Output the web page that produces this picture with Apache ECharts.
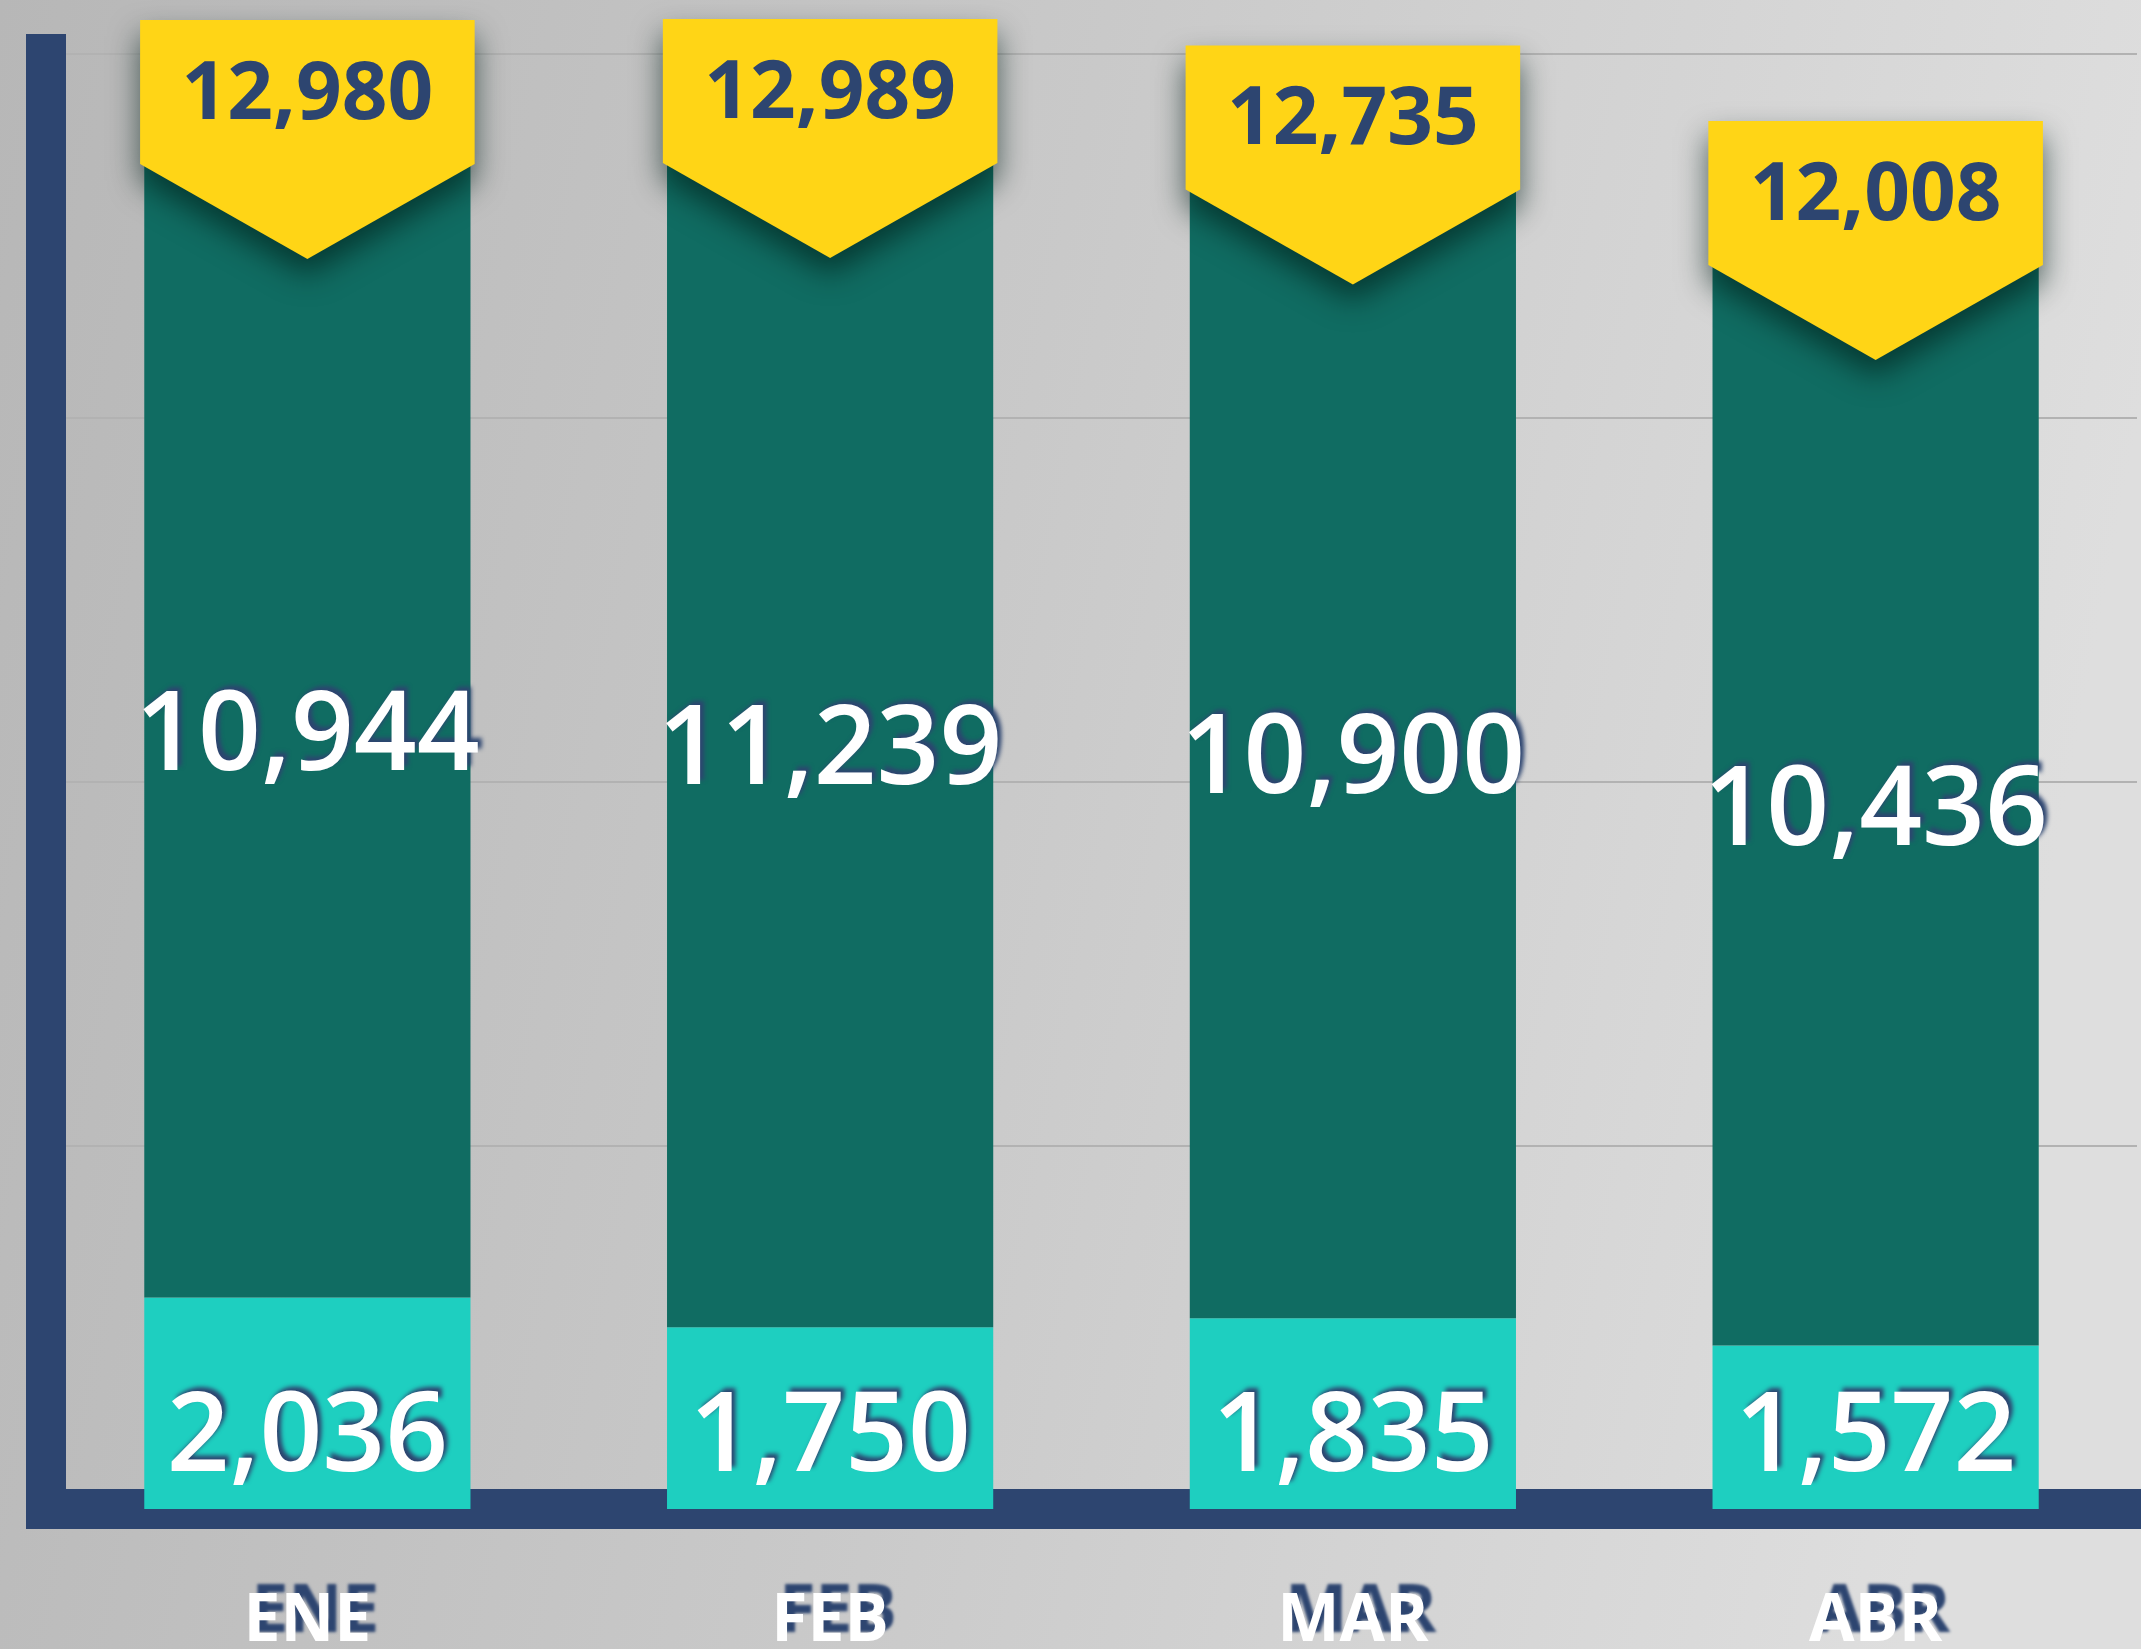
<!DOCTYPE html>
<html>
<head>
<meta charset="utf-8">
<script src="https://cdn.jsdelivr.net/npm/echarts@6/dist/echarts.min.js"></script>
<style>
html,body{margin:0;padding:0;}
#chart{width:2141px;height:1649px;}
</style>
</head>
<body>
<div id="chart"></div>
<script>
const months = ['ENE', 'FEB', 'MAR', 'ABR'];
const lowerValues = [2036, 1750, 1835, 1572];
const upperValues = [10944, 11239, 10900, 10436];
const totals = [12980, 12989, 12735, 12008];
const yTicks = [0, 3500, 7000, 10500, 14000];

const NAVY = '#2d4570';
const fmt = v => Number(v).toLocaleString('en-US');

const chart = echarts.init(document.getElementById('chart'));

const valueLabel = {
  show: true,
  color: '#ffffff',
  fontFamily: '"Open Sans", "Noto Sans", sans-serif',
  fontWeight: 600,
  fontSize: 110,
  lineHeight: 110,
  offset: [0, 10],
  textShadowColor: NAVY,
  textShadowBlur: 4,
  textShadowOffsetX: 4,
  textShadowOffsetY: -4,
  formatter: p => fmt(p.value)
};

chart.setOption({
  backgroundColor: {
    type: 'linear', x: 0, y: 0, x2: 1, y2: 0.25,
    colorStops: [
      { offset: 0, color: '#b7b7b7' },
      { offset: 0.5, color: '#c9c9c9' },
      { offset: 1, color: '#dedede' }
    ]
  },
  animation: false,
  grid: { left: 46, right: 4, top: 54, bottom: 140, containLabel: false, outerBoundsMode: 'none' },
  xAxis: {
    type: 'category',
    data: months,
    axisLine: { show: true, lineStyle: { color: NAVY, width: 40, cap: 'square' } },
    axisTick: { show: false },
    axisLabel: {
      color: '#ffffff',
      fontFamily: '"Open Sans", "Noto Sans", sans-serif',
      fontWeight: 'bold',
      fontSize: 66,
      lineHeight: 66,
      margin: 80,
      textShadowColor: NAVY,
      textShadowBlur: 3,
      textShadowOffsetX: 8,
      textShadowOffsetY: -9
    },
    z: 1
  },
  yAxis: {
    type: 'value',
    min: yTicks[0],
    max: yTicks[yTicks.length - 1],
    interval: yTicks[1] - yTicks[0],
    axisLine: { show: true, lineStyle: { color: NAVY, width: 40, cap: 'square' } },
    axisTick: { show: false },
    axisLabel: { show: false },
    splitLine: { show: true, lineStyle: { color: '#b2b2b2', width: 2 } }
  },
  series: [
    {
      name: 'lower',
      type: 'bar',
      stack: 'total',
      data: lowerValues,
      barWidth: '62.4%',
      itemStyle: { color: '#1ecfc0' },
      label: Object.assign({}, valueLabel, { position: 'insideBottom', distance: 24 }),
      z: 3
    },
    {
      name: 'upper',
      type: 'bar',
      stack: 'total',
      data: upperValues,
      barWidth: '62.4%',
      itemStyle: { color: '#106c62' },
      label: Object.assign({}, valueLabel, { position: 'inside' }),
      z: 3
    },
    {
      name: 'total',
      type: 'custom',
      z: 10,
      clip: false,
      data: totals.map((v, i) => [i, v]),
      encode: { x: 0, y: 1 },
      renderItem: function (params, api) {
        const idx = api.value(0);
        const val = api.value(1);
        const p = api.coord([idx, val]);
        const band = api.size([1, 0])[0];
        const w = band * 0.64;
        const x = p[0];
        const top = p[1] - 140;
        const H = 144, D = 95;
        return {
          type: 'group',
          children: [
            {
              type: 'polygon',
              shape: {
                points: [
                  [x - w / 2, top], [x + w / 2, top], [x + w / 2, top + H],
                  [x, top + H + D], [x - w / 2, top + H]
                ]
              },
              style: {
                fill: '#ffd516',
                shadowBlur: 30,
                shadowColor: 'rgba(0,30,25,0.65)',
                shadowOffsetY: 16
              }
            },
            {
              type: 'text',
              style: {
                text: fmt(val),
                x: x,
                y: top + 76,
                align: 'center',
                verticalAlign: 'middle',
                fill: NAVY,
                fontFamily: '"Open Sans", "Noto Sans", sans-serif',
                fontWeight: 'bold',
                fontSize: 80
              }
            }
          ]
        };
      }
    }
  ]
});
</script>
</body>
</html>
